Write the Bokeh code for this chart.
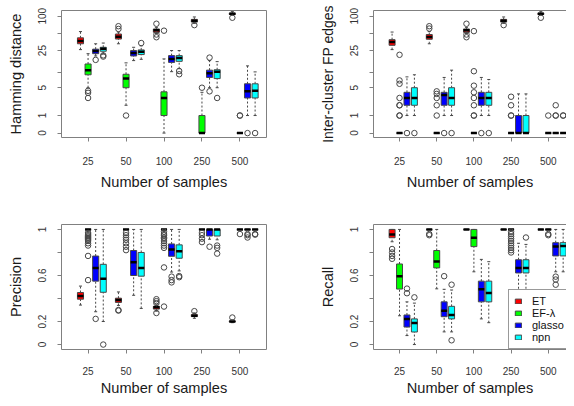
import numpy as np
from bokeh.plotting import figure
from bokeh.models import Range1d, FixedTicker, LinearAxis, Legend, LegendItem, ColumnDataSource
from bokeh.layouts import column, row
from bokeh.embed import file_html
from bokeh.resources import INLINE

# ---------------- data ----------------
methods = ["ET", "EF-λ", "glasso", "npn"]
method_colors = ["#FF0000", "#00FF00", "#0000FF", "#00FFFF"]
sample_labels = ["25", "50", "100", "250", "500"]

count_ticks = [0, 1, 5, 10, 25, 50, 100]
count_tick_labels = ["0", "1", "5", "", "25", "", "100"]
prop_ticks = [0, 0.2, 0.4, 0.6, 0.8, 1]
prop_tick_labels = ["0", "0.2", "", "0.6", "", "1"]

# box stats per sample size: (lower whisker, Q1, median, Q3, upper whisker)
ham_ET = [(26, 33, 37, 42, 54), (33, 40, 44, 49, 53), (50, 52.5, 57, 60, 64), (75, 79, 83, 88, 97), (104, 107, 110, 113, 120)]
ham_ET_out = [[], [60, 67], [74, 48, 43], [70], [94]]
ham_EF = [(5, 9, 11, 14.3, 22), (2, 5, 7.6, 9.2, 15), (0, 1, 3, 4.1, 17.7), (0, 0, 0, 1, 4), (0, 0, 0, 0, 0)]
ham_EF_out = [[4.3, 3.9, 3.0], [1], [56], [5], [1, 1]]
ham_GL = [(20, 22, 24.5, 26.5, 33), (16.5, 20, 22.7, 25, 28.6), (10.3, 15.3, 17.7, 20.3, 25), (5, 8, 9.6, 11, 16.5), (1, 3, 4.2, 6, 13.2)]
ham_GL_out = [[17], [], [], [18.7, 4.2], [0]]
ham_NP = [(21.8, 24.3, 26.8, 28.6, 34), (17.4, 21.2, 23.7, 25.7, 30.3), (11.7, 16, 18.3, 20.3, 25), (5, 7.6, 10.3, 11.2, 15.8), (1, 3, 4.3, 6, 10.2)]
ham_NP_out = [[19.5, 20.5], [34], [10.6, 9.2], [3], [0]]

fp_ET = [(26, 31, 35.6, 39, 53), (33, 39.6, 43.6, 48, 54), (50, 52.5, 57, 60, 64), (75, 79, 83, 88, 97), (104, 107, 110, 113, 120)]
fp_ET_out = [[], [61, 67], [74, 48, 43], [70], [94]]
fp_EF = [(0, 0, 0, 0, 0)] * 5
fp_EF_out = [[1, 1, 2, 2, 3, 6, 7, 21], [1, 2, 3, 3.7, 4.2], [1, 1, 2, 3, 4, 5.5, 10.5, 55], [1, 1, 2, 3.2], [1]]
fp_GL = [(1, 2, 3, 4, 8.2), (1, 2, 3.5, 4, 8), (1, 2, 3, 4, 8), (0, 0, 0, 1, 3.7), (0, 0, 0, 0, 0)]
fp_GL_out = [[0], [0], [0], [], [1, 1, 2]]
fp_NP = [(1, 2, 3, 5, 9), (1, 2, 3, 5, 11), (1, 2, 3, 4, 7.3), (0, 0, 0, 1, 3.7), (0, 0, 0, 0, 0)]
fp_NP_out = [[0], [0], [0], [], [1, 1]]

pr_ET = [(0.343, 0.394, 0.422, 0.452, 0.508), (0.34, 0.366, 0.386, 0.403, 0.457), (0.29, 0.308, 0.323, 0.332, 0.345), (0.228, 0.243, 0.25, 0.26, 0.275), (0.19, 0.197, 0.2, 0.205, 0.215)]
pr_ET_out = [[], [0.30, 0.295], [0.394, 0.377, 0.36, 0.274], [0.29], [0.235]]
pr_EF = [(1, 1, 1, 1, 1)] * 5
pr_EF_out = [[0.97, 0.96, 0.95, 0.94, 0.93, 0.92, 0.91, 0.9, 0.88, 0.86, 0.77, 0.56],
             [0.97, 0.95, 0.93, 0.91, 0.88, 0.85, 0.82],
             [0.98, 0.96, 0.95, 0.93, 0.92, 0.9, 0.88, 0.86, 0.84, 0.67, 0.33],
             [0.97, 0.95, 0.92, 0.89], [0.96]]
pr_GL = [(0.285, 0.551, 0.666, 0.769, 1.0), (0.428, 0.60, 0.714, 0.817, 1.0), (0.63, 0.767, 0.826, 0.874, 1.0), (0.915, 0.943, 1.0, 1.0, 1.0), (1, 1, 1, 1, 1)]
pr_GL_out = [[0.223], [], [0.59, 0.56, 0.54], [0.85], [0.96, 0.95, 0.93]]
pr_NP = [(0.2, 0.454, 0.571, 0.697, 1.0), (0.314, 0.594, 0.666, 0.80, 1.0), (0.64, 0.75, 0.81, 0.866, 1.0), (0.91, 0.943, 1.0, 1.0, 1.0), (1, 1, 1, 1, 1)]
pr_NP_out = [[0.0], [], [0.595, 0.585], [0.86, 0.84, 0.79], [0.96, 0.955]]

rc_ET = [(0.893, 0.928, 0.957, 1.0, 1.0), (1, 1, 1, 1, 1), (1, 1, 1, 1, 1), (1, 1, 1, 1, 1), (1, 1, 1, 1, 1)]
rc_ET_out = [[0.83, 0.8, 0.77, 0.745], [0.96, 0.95], [], [], []]
rc_EF = [(0.25, 0.482, 0.594, 0.70, 1.0), (0.484, 0.666, 0.722, 0.817, 1.0), (0.632, 0.851, 0.928, 1.0, 1.0), (1, 1, 1, 1, 1), (1, 1, 1, 1, 1)]
rc_EF_out = [[], [], [], [0.98, 0.96, 0.94, 0.92, 0.9, 0.88, 0.86, 0.84, 0.82, 0.8], [0.96, 0.95]]
rc_GL = [(0.078, 0.152, 0.223, 0.257, 0.371), (0.11, 0.242, 0.294, 0.371, 0.48), (0.223, 0.371, 0.48, 0.551, 0.74), (0.45, 0.622, 0.666, 0.737, 0.88), (0.632, 0.77, 0.851, 0.885, 1.0)]
rc_GL_out = [[0.486, 0.446], [0.594], [], [], [0.59, 0.565, 0.52]]
rc_NP = [(0.0, 0.109, 0.188, 0.223, 0.36), (0.11, 0.223, 0.257, 0.332, 0.474), (0.19, 0.371, 0.448, 0.551, 0.72), (0.45, 0.622, 0.666, 0.737, 0.87), (0.632, 0.77, 0.857, 0.885, 1.0)]
rc_NP_out = [[0.41], [0.52, 0.037], [], [0.93], []]

# ---------------- style ----------------
FONT = "Liberation Sans"
GREY = "#808080"
EDGE = "#474747"


def make_fig(width, height, mb_left, mb_right, mb_top, mb_bottom, x_end, y_range, ylabel,
             ticks, tick_labels, tf, open_right, label_standoff, title_standoff, ytitle_size="14.6px"):
    p = figure(width=width, height=height, output_backend="svg", toolbar_location=None,
               x_range=Range1d(-0.5, x_end), y_range=Range1d(*y_range),
               min_border_left=mb_left, min_border_right=mb_right,
               min_border_top=mb_top, min_border_bottom=mb_bottom,
               x_axis_label="Number of samples", y_axis_label=ylabel)
    p.xgrid.visible = False
    p.ygrid.visible = False
    p.background_fill_color = "white"
    p.border_fill_color = "white"

    xt = [5 * g + 3 for g in range(5)]
    p.xaxis.ticker = FixedTicker(ticks=xt)
    p.xaxis.major_label_overrides = {t: lab for t, lab in zip(xt, sample_labels)}
    yt = [float(v) for v in tf(np.array(ticks, dtype=float))]
    p.yaxis.ticker = FixedTicker(ticks=yt)
    p.yaxis.major_label_overrides = {t: lab for t, lab in zip(yt, tick_labels)}
    p.yaxis.major_label_orientation = "parallel"

    for ax in (p.xaxis[0], p.yaxis[0]):
        ax.major_tick_out = 4
        ax.major_tick_in = 0
        ax.minor_tick_line_color = None
        ax.major_tick_line_color = GREY
        ax.major_label_text_font = FONT
        ax.major_label_text_font_size = "10px"
        ax.major_label_text_color = "#333333"
        ax.axis_label_text_font = FONT
        ax.axis_label_text_font_size = "14.6px"
        ax.axis_label_text_font_style = "normal"
        ax.axis_label_text_color = "#1a1a1a"
    p.yaxis.axis_label_text_font_size = ytitle_size
    p.xaxis.major_label_standoff = label_standoff
    p.xaxis.axis_label_standoff = title_standoff
    p.yaxis.major_label_standoff = 11
    p.yaxis.axis_label_standoff = 12

    if open_right:
        p.outline_line_color = None
        p.xaxis.axis_line_color = GREY
        p.yaxis.axis_line_color = GREY
        top_ax = LinearAxis(ticker=FixedTicker(ticks=[]), major_label_text_font_size="0px",
                            major_tick_out=0, major_tick_in=0, major_label_standoff=0,
                            minor_tick_line_color=None, axis_line_color=GREY)
        p.add_layout(top_ax, "above")
    else:
        p.outline_line_color = GREY
        p.outline_line_width = 1
        p.xaxis.axis_line_color = None
        p.yaxis.axis_line_color = None
    return p


def draw_boxes(p, stats, outs, tf):
    renderers = []
    for m in range(4):
        xs = [5 * g + 2 + m for g in range(5)]
        lo, q1, md, q3, hi = (tf(np.array(c, dtype=float)) for c in zip(*stats[m]))
        src = ColumnDataSource(dict(
            x=xs, lo=lo, q1=q1, md=md, q3=q3, hi=hi,
            xl=[x - 0.4 for x in xs], xr=[x + 0.4 for x in xs],
            sl=[x - 0.2 for x in xs], sr=[x + 0.2 for x in xs]))
        p.segment(x0="x", y0="q3", x1="x", y1="hi", source=src, line_color=EDGE, line_dash="2 2", line_width=1)
        p.segment(x0="x", y0="lo", x1="x", y1="q1", source=src, line_color=EDGE, line_dash="2 2", line_width=1)
        p.segment(x0="sl", y0="hi", x1="sr", y1="hi", source=src, line_color=EDGE, line_width=1)
        p.segment(x0="sl", y0="lo", x1="sr", y1="lo", source=src, line_color=EDGE, line_width=1)
        r = p.vbar(x="x", bottom="q1", top="q3", width=0.8, source=src,
                   fill_color=method_colors[m], line_color=EDGE, line_width=1)
        renderers.append(r)
        p.segment(x0="xl", y0="md", x1="xr", y1="md", source=src, line_color="black", line_width=2.5)
        ox = [xs[g] for g in range(5) for _ in outs[m][g]]
        oy = tf(np.array([v for g in range(5) for v in outs[m][g]], dtype=float))
        if len(ox):
            p.scatter(x=ox, y=list(oy), marker="circle", size=5.5, fill_color=None,
                      line_color=EDGE, line_width=1)
    return renderers


log_tf = np.log1p
lin_tf = lambda a: a

TOP_Y = (-0.174, 4.84)
BOT_Y = (-0.043, 1.043)
LEFT_XEND = 26.5
RIGHT_XEND = 25.45

p1 = make_fig(295, 200, 61, 29, 10, 63, LEFT_XEND, TOP_Y, "Hamming distance",
              count_ticks, count_tick_labels, log_tf, False, 15, 6)
draw_boxes(p1, [ham_ET, ham_EF, ham_GL, ham_NP], [ham_ET_out, ham_EF_out, ham_GL_out, ham_NP_out], log_tf)

p2 = make_fig(271, 200, 78, 0, 10, 63, RIGHT_XEND, TOP_Y, "Inter-cluster FP edges",
              count_ticks, count_tick_labels, log_tf, True, 15, 6, ytitle_size="14px")
draw_boxes(p2, [fp_ET, fp_EF, fp_GL, fp_NP], [fp_ET_out, fp_EF_out, fp_GL_out, fp_NP_out], log_tf)

p3 = make_fig(295, 198, 61, 29, 24, 47, LEFT_XEND, BOT_Y, "Precision",
              prop_ticks, prop_tick_labels, lin_tf, False, 13, 2)
draw_boxes(p3, [pr_ET, pr_EF, pr_GL, pr_NP], [pr_ET_out, pr_EF_out, pr_GL_out, pr_NP_out], lin_tf)

p4 = make_fig(271, 198, 78, 0, 24, 47, RIGHT_XEND, BOT_Y, "Recall",
              prop_ticks, prop_tick_labels, lin_tf, True, 13, 2)
rends = draw_boxes(p4, [rc_ET, rc_EF, rc_GL, rc_NP], [rc_ET_out, rc_EF_out, rc_GL_out, rc_NP_out], lin_tf)

legend = Legend(items=[LegendItem(label=m, renderers=[r]) for m, r in zip(methods, rends)],
                location=(135, 0), orientation="vertical",
                border_line_color="#333333", border_line_width=1,
                background_fill_color="white", background_fill_alpha=1.0,
                padding=5, spacing=0, margin=0, glyph_width=8, glyph_height=6,
                label_standoff=10, label_height=10, label_width=45,
                label_text_font=FONT, label_text_font_size="11px", label_text_color="#111111")
p4.add_layout(legend)

layout = column(row(p1, p2), row(p3, p4))
open("out.html", "w").write(file_html(layout, INLINE))
